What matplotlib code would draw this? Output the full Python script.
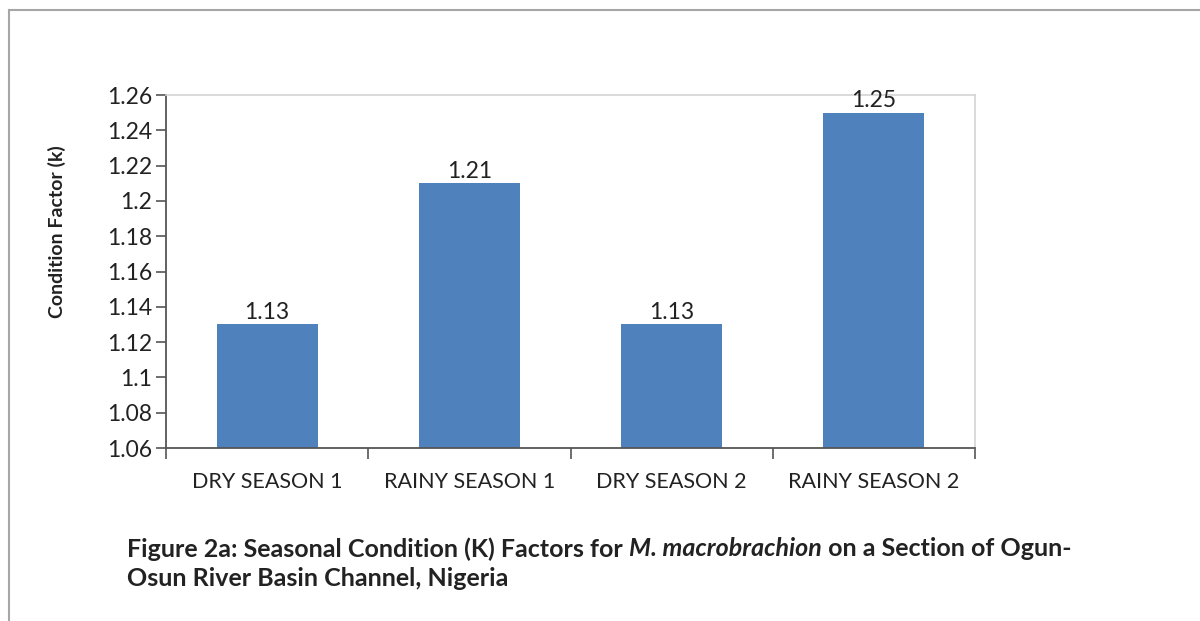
import matplotlib.pyplot as plt
from matplotlib.lines import Line2D

seasons = ["DRY SEASON 1", "RAINY SEASON 1", "DRY SEASON 2", "RAINY SEASON 2"]
k_factor = [1.13, 1.21, 1.13, 1.25]
y_ticks = [1.06, 1.08, 1.1, 1.12, 1.14, 1.16, 1.18, 1.2, 1.22, 1.24, 1.26]
y_tick_labels = ["1.06", "1.08", "1.1", "1.12", "1.14", "1.16", "1.18", "1.2", "1.22", "1.24", "1.26"]

plt.rcParams['font.family'] = ['Lato', 'DejaVu Sans']

W, H = 1200, 621
fig = plt.figure(figsize=(12, 6.21), dpi=100)
ax = fig.add_axes([166 / W, 1 - 448 / H, (975 - 166) / W, (448 - 95) / H])

x = list(range(len(seasons)))
bars = ax.bar(x, [v - 1.06 for v in k_factor], bottom=1.06, width=0.5, color="#4F81BD")
for xi, v in zip(x, k_factor):
    ax.annotate("%.2f" % v, (xi, v), xytext=(0, 1), textcoords="offset points",
                ha="center", va="bottom", fontsize=16.5, color="#222222")

ax.set_xlim(-0.5, 3.5)
ax.set_ylim(1.06, 1.26)
ax.set_yticks(y_ticks)
ax.set_yticklabels(y_tick_labels, fontsize=16.5, color="#222222")
ax.set_xticks(x)
ax.set_xticklabels(seasons, fontsize=15.5, color="#222222")
ax.tick_params(axis="x", length=0, pad=17)
ax.tick_params(axis="y", length=7, width=1.2, color="#555555", pad=3)
# category boundary ticks
ax.set_xticks([-0.5, 0.5, 1.5, 2.5, 3.5], minor=True)
ax.tick_params(axis="x", which="minor", length=8, width=1.2, color="#555555")

for s in ["top", "right"]:
    ax.spines[s].set_color("#D4D4D4")
    ax.spines[s].set_linewidth(1.2)
for s in ["left", "bottom"]:
    ax.spines[s].set_color("#555555")
    ax.spines[s].set_linewidth(1.3)

fig.text(57 / W, 1 - 232 / H, "Condition Factor (k)", rotation=90, ha="center", va="center",
         fontsize=14, fontweight="bold", color="#222222")

# outer frame
fig.add_artist(Line2D([8.5 / W, 8.5 / W], [0, 1 - 10 / H], color="#A6A6A6", lw=1.5))
fig.add_artist(Line2D([8.5 / W, 1], [1 - 10 / H, 1 - 10 / H], color="#A6A6A6", lw=1.5))

# caption with italic species name
fig.canvas.draw()
renderer = fig.canvas.get_renderer()
pieces = [("Figure 2a: Seasonal Condition (K) Factors for ", "normal"),
          ("M. macrobrachion", "italic"),
          (" on a Section of Ogun-", "normal")]
xpos = 127 / W
y1 = 1 - 549 / H
for txt, style in pieces:
    t = fig.text(xpos, y1, txt, fontsize=18, fontweight="bold", style=style,
                 color="#222222", va="center", ha="left")
    bb = t.get_window_extent(renderer=renderer)
    xpos += bb.width / W
fig.text(127 / W, 1 - 578 / H, "Osun River Basin Channel, Nigeria", fontsize=18,
         fontweight="bold", color="#222222", va="center", ha="left")

fig.savefig("out.png", dpi=100)
